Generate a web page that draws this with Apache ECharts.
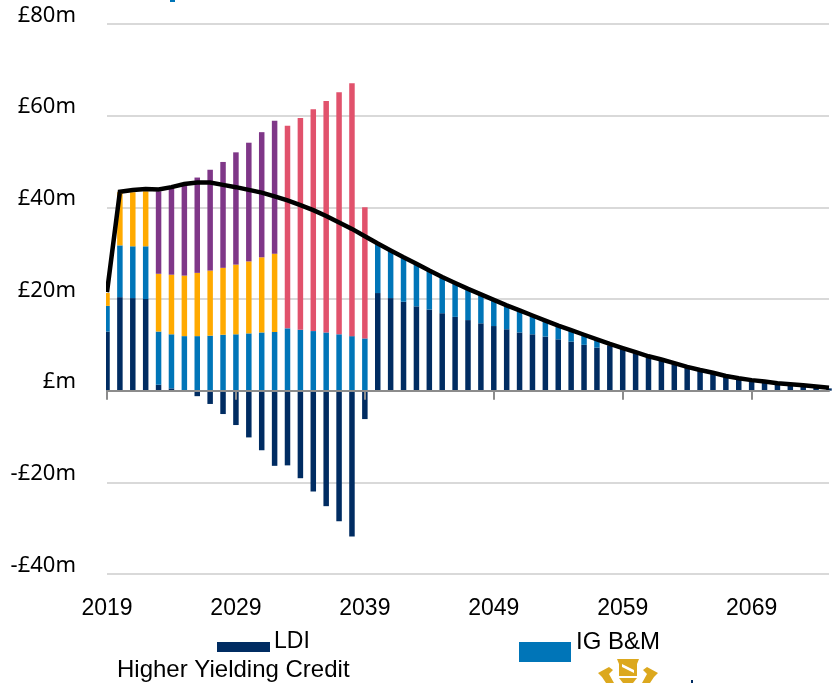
<!DOCTYPE html>
<html>
<head>
<meta charset="utf-8">
<style>
  html, body { margin: 0; padding: 0; background: #fff; }
  #chart { width: 840px; height: 683px; }
</style>
<script src="https://cdn.jsdelivr.net/npm/echarts@6/dist/echarts.min.js"></script>
</head>
<body>
<div id="chart"></div>
<script>
const years = [];
for (let y = 2019; y <= 2075; y++) years.push(String(y));

// values in £m
const ldi = [12.9, 20.4, 20.2, 20.0, 1.3, 0.5, 0, -1.2, -2.9, -5.1, -7.5, -10.2, -13.0, -16.4, -16.3, -19.1, -22.0, -25.2, -28.5, -31.8, -6.2,
  21.3, 20.2, 19.4, 18.4, 17.7, 16.9, 16.1, 15.4, 14.7, 14.1, 13.4, 12.7, 12.3, 11.8, 11.2, 10.7, 10.0, 9.4,
  9.9, 9.1, 8.2, 7.3, 6.6, 5.8, 5.0, 4.3, 3.7, 3.0, 2.5, 2.1, 1.8, 1.4, 1.2, 1.0, 0.7, 0.5];
const igBm = [5.6, 11.3, 11.3, 11.5, 11.6, 11.8, 11.9, 11.9, 12.0, 12.2, 12.3, 12.5, 12.7, 12.8, 13.6, 13.3, 13.0, 12.7, 12.3, 11.9, 11.4,
  10.8, 10.4, 9.7, 9.3, 8.5, 7.9, 7.3, 6.8, 6.3, 5.7, 5.2, 4.8, 4.1, 3.5, 3.0, 2.4, 2.0, 1.7];
const higherYielding = [2.8, 11.6, 11.8, 12.0, 12.6, 13.0, 13.2, 13.8, 14.2, 14.6, 15.2, 15.7, 16.4, 17.1];
const purple = [null, null, null, null, 18.0, 19.1, 20.0, 20.8, 22.0, 23.1, 24.5, 25.9, 27.3, 29.0];
const pink = [null, null, null, null, null, null, null, null, null, null, null, null, null, null, 44.2, 46.2, 48.4, 50.5, 52.8, 55.2, 28.6];
const total = [21.5, 43.4, 43.8, 44.0, 43.9, 44.4, 45.1, 45.4, 45.4, 44.9, 44.4, 43.8, 43.2, 42.4, 41.5, 40.5, 39.4, 38.1, 36.7, 35.3, 33.7,
  32.1, 30.6, 29.1, 27.7, 26.2, 24.8, 23.5, 22.2, 21.0, 19.8, 18.6, 17.5, 16.4, 15.3, 14.2, 13.2, 12.2, 11.2,
  10.2, 9.3, 8.4, 7.5, 6.8, 6.0, 5.2, 4.5, 3.9, 3.2, 2.7, 2.3, 2.0, 1.6, 1.4, 1.2, 0.9, 0.65];

const fontFamily = 'Liberation Sans';
const gold = '#dca81e';
const navy = '#002c62';
const blue = '#0075b8';

function barSeries(name, data, color) {
  return { name: name, type: 'bar', stack: 'a', barWidth: 5.5, data: data, itemStyle: { color: color } };
}

function crestPart(points, fill) {
  return { type: 'polygon', shape: { points: points }, style: { fill: fill || gold } };
}

function legendText(text, x, y, size) {
  return { type: 'text', x: x, y: y, style: { text: text, fontFamily: fontFamily, fontSize: size, fill: '#000', verticalAlign: 'middle' } };
}

const chart = echarts.init(document.getElementById('chart'));

chart.setOption({
  animation: false,
  grid: { left: 107, top: 24, width: 722, height: 550, outerBoundsMode: 'none' },
  xAxis: {
    type: 'category',
    data: years,
    boundaryGap: false,
    z: 3,
    axisLine: { onZero: true, lineStyle: { color: '#8c8c8c', width: 2 } },
    axisTick: { interval: 9, length: 9, lineStyle: { color: '#8c8c8c', width: 2 } },
    axisLabel: { interval: 9, margin: 23, fontFamily: fontFamily, fontSize: 23, color: '#000' },
    splitLine: { show: false }
  },
  yAxis: {
    type: 'value',
    min: -40,
    max: 80,
    interval: 20,
    axisLine: { show: false },
    axisTick: { show: false },
    axisLabel: {
      margin: 31,
      fontFamily: 'Noto Sans',
      fontSize: 22,
      color: '#000',
      verticalAlign: 'bottom',
      lineHeight: 17,
      formatter: function (v) {
        if (v === 0) return '£m';
        return v < 0 ? '-£' + (-v) + 'm' : '£' + v + 'm';
      }
    },
    splitLine: { lineStyle: { color: '#d9d9d9', width: 2 } }
  },
  series: [
    barSeries('LDI', ldi, navy),
    barSeries('IG B&M', igBm, blue),
    barSeries('Higher Yielding Credit', higherYielding, '#ffaa00'),
    barSeries('Purple', purple, '#7f3788'),
    barSeries('Pink', pink, '#e1526c'),
    {
      name: 'Total',
      type: 'line',
      data: total,
      symbol: 'none',
      z: 5,
      lineStyle: { color: '#000', width: 4.5, join: 'miter' }
    }
  ],
  graphic: [
    // first bar is cut off at the axis start in the reference
    { type: 'rect', shape: { x: 100, y: 280, width: 6, height: 112 }, style: { fill: '#fff' }, z: 10 },
    // legend sits off centre in the reference, so it is laid out by hand
    { type: 'rect', shape: { x: 217, y: 642, width: 53, height: 10 }, style: { fill: navy } },
    legendText('LDI', 274, 642, 23),
    { type: 'rect', shape: { x: 519, y: 642, width: 52, height: 20 }, style: { fill: blue } },
    legendText('IG B&M', 576, 642, 24),
    legendText('Higher Yielding Credit', 117, 670, 24),
    { type: 'rect', shape: { x: 170, y: 0, width: 5, height: 2 }, style: { fill: blue } },
    { type: 'rect', shape: { x: 691, y: 680, width: 2, height: 3 }, style: { fill: navy } },
    // crest at the bottom, cropped by the page edge
    crestPart([[617, 659], [639, 659], [637, 664], [637, 676], [619, 676], [619, 664]]),
    crestPart([[622, 664], [634, 670], [634, 673], [622, 667]], '#fff'),
    crestPart([[619, 678], [637, 678], [633, 683], [623, 683]]),
    crestPart([[598, 673], [609, 667], [613, 670], [609, 674], [614, 683], [606, 683], [602, 677]]),
    crestPart([[658, 673], [647, 667], [643, 670], [647, 674], [642, 683], [650, 683], [654, 677]])
  ]
});
</script>
</body>
</html>
